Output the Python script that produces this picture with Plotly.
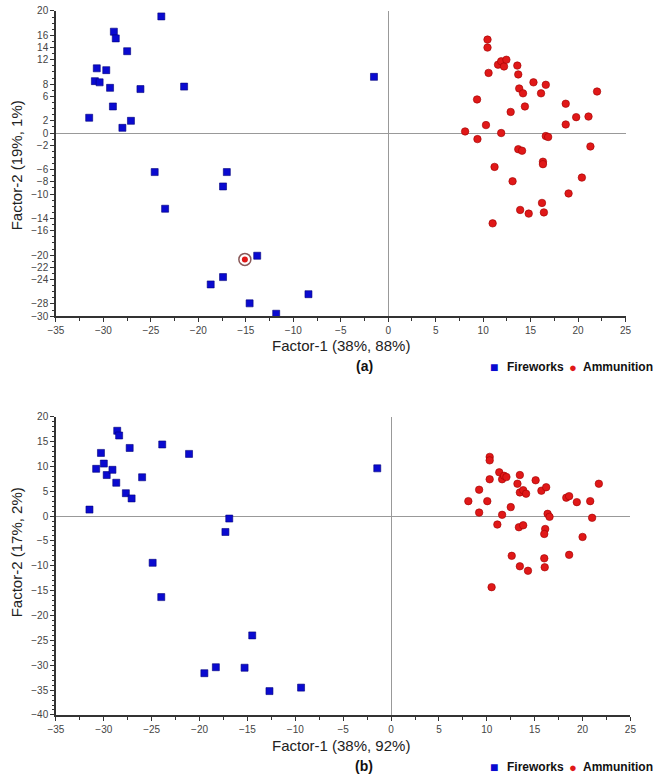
import plotly.graph_objects as go

# ---------------- Data: panel (a) ----------------
fw_a_x = [-23.9, -28.9, -28.7, -27.5, -30.7, -29.7, -30.9, -30.4, -29.3, -26.1, -21.5, -29.0, -31.5,
          -27.1, -28.0, -24.6, -17.0, -17.4, -23.5, -13.8, -17.4, -18.7, -8.4, -14.6, -11.8, -1.5]
fw_a_y = [19.1, 16.6, 15.5, 13.4, 10.6, 10.3, 8.5, 8.3, 7.4, 7.2, 7.6, 4.35, 2.5,
          2.0, 0.85, -6.4, -6.4, -8.75, -12.4, -20.1, -23.6, -24.8, -26.4, -27.9, -29.6, 9.2]

am_a_x = [10.46, 10.46, 11.57, 11.9, 12.2, 12.45, 13.6, 10.57, 13.7, 15.3, 16.6, 13.8, 14.2, 16.1,
          22.0, 9.36, 18.7, 14.4, 12.9, 19.8, 21.1, 10.3, 18.7, 8.1, 11.9, 9.4, 16.6, 16.85,
          21.3, 13.7, 14.1, 16.3, 16.3, 11.2, 13.1, 20.4, 19.0, 16.2, 13.9, 14.8, 16.4, 11.0]
am_a_y = [15.3, 14.0, 11.2, 11.75, 10.9, 12.0, 11.05, 9.85, 9.6, 8.3, 7.9, 7.3, 6.5, 6.5,
          6.8, 5.5, 4.8, 4.35, 3.45, 2.6, 2.7, 1.3, 1.4, 0.26, 0.0, -1.0, -0.5, -0.65,
          -2.2, -2.65, -2.9, -4.7, -5.1, -5.55, -7.9, -7.3, -9.9, -11.45, -12.6, -13.2, -13.0, -14.8]

# highlighted ammunition sample lying among the fireworks cluster
hl_a_x = [-15.1]
hl_a_y = [-20.7]

# ---------------- Data: panel (b) ----------------
fw_b_x = [-31.5, -30.8, -30.3, -30.0, -29.7, -29.1, -28.7, -28.6, -28.4, -27.3, -27.7, -27.1, -26.0,
          -23.9, -21.1, -24.9, -24.0, -16.9, -17.3, -14.5, -19.5, -18.3, -15.3, -12.7, -9.4, -1.44]
fw_b_y = [1.3, 9.5, 12.7, 10.55, 8.25, 9.3, 6.7, 17.15, 16.2, 13.7, 4.6, 3.55, 7.8,
          14.4, 12.5, -9.4, -16.3, -0.5, -3.2, -24.0, -31.6, -30.4, -30.5, -35.2, -34.5, 9.6]

am_b_x = [10.3, 10.3, 10.3, 11.3, 11.6, 11.8, 12.05, 13.45, 13.2, 15.1, 9.2, 13.45, 13.8, 14.1,
          15.7, 16.2, 8.07, 10.05, 12.5, 18.3, 18.6, 19.4, 20.8, 21.7, 9.2, 11.6, 16.35, 16.55,
          21.0, 11.1, 13.35, 13.8, 16.1, 16.0, 20.0, 12.6, 18.6, 16.0, 13.45, 14.3, 16.05, 10.5]
am_b_y = [11.9, 11.2, 7.4, 8.8, 7.4, 8.1, 7.85, 8.25, 6.5, 7.2, 5.3, 4.75, 5.2, 4.5,
          5.1, 5.8, 3.0, 3.0, 1.8, 3.7, 4.0, 2.8, 3.0, 6.5, 0.7, 0.25, 0.45, -0.15,
          -0.35, -1.7, -2.25, -1.85, -2.6, -3.6, -4.2, -8.0, -7.8, -8.5, -10.1, -11.0, -10.3, -14.3]

# ---------------- Axis ticks / labels ----------------
x_ticks = [-35, -30, -25, -20, -15, -10, -5, 0, 5, 10, 15, 20, 25]
ya_ticks = [20, 16, 14, 12, 8, 6, 2, 0, -2, -6, -8, -10, -14, -16, -20, -22, -24, -28, -30]
yb_ticks = [20, 15, 10, 5, 0, -5, -10, -15, -20, -25, -30, -35, -40]

xa_title = "Factor-1 (38%, 88%)"
ya_title = "Factor-2 (19%, 1%)"
xb_title = "Factor-1 (38%, 92%)"
yb_title = "Factor-2 (17%, 2%)"
series_names = ["Fireworks", "Ammunition"]

BLUE = "#0a0ad0"
RED = "#e01818"
W, H = 656, 783
FONT = "Liberation Sans, Arial, sans-serif"

fig = go.Figure()

sq = dict(symbol="square", size=7, color=BLUE, line=dict(color="#00007a", width=0.6))
ci = dict(symbol="circle", size=7.5, color=RED, line=dict(color="#a00000", width=0.6))

# panel a
fig.add_trace(go.Scatter(x=fw_a_x, y=fw_a_y, mode="markers", marker=sq, name=series_names[0],
                         xaxis="x", yaxis="y", showlegend=False))
fig.add_trace(go.Scatter(x=am_a_x, y=am_a_y, mode="markers", marker=ci, name=series_names[1],
                         xaxis="x", yaxis="y", showlegend=False))
fig.add_trace(go.Scatter(x=hl_a_x, y=hl_a_y, mode="markers", showlegend=False,
                         marker=dict(symbol="circle-open", size=12, color="#8a5a5a",
                                     line=dict(width=1.5)), xaxis="x", yaxis="y"))
fig.add_trace(go.Scatter(x=hl_a_x, y=hl_a_y, mode="markers", showlegend=False,
                         marker=dict(symbol="circle", size=6, color=RED), xaxis="x", yaxis="y"))
# panel b
fig.add_trace(go.Scatter(x=fw_b_x, y=fw_b_y, mode="markers", marker=sq, name=series_names[0],
                         xaxis="x2", yaxis="y2", showlegend=False))
fig.add_trace(go.Scatter(x=am_b_x, y=am_b_y, mode="markers", marker=ci, name=series_names[1],
                         xaxis="x2", yaxis="y2", showlegend=False))

tickfont = dict(family=FONT, size=10, color="#444")
axis_common = dict(showline=True, linecolor="#333", linewidth=1.5, ticks="outside", ticklen=4,
                   tickcolor="#333", tickwidth=1, showgrid=False, zeroline=True,
                   zerolinecolor="#999", zerolinewidth=1, tickfont=tickfont, mirror=False)

top_y0, top_y1 = 5, 315
bot_y0, bot_y1 = 417, 720
xl = 49

fig.update_layout(
    width=W, height=H,
    margin=dict(l=0, r=0, t=0, b=0),
    paper_bgcolor="white", plot_bgcolor="white",
    showlegend=False,
    xaxis=dict(domain=[xl / W, 631 / W], range=[-35, 25], tickvals=x_ticks, anchor="y",
               minor=dict(ticks="outside", ticklen=3, dtick=2.5, tick0=0, tickcolor="#333"),
               **axis_common),
    yaxis=dict(domain=[1 - top_y1 / H, 1 - top_y0 / H], range=[-30, 20], tickvals=ya_ticks,
               anchor="x", minor=dict(ticks="outside", ticklen=2, dtick=1, tick0=0, tickcolor="#333"),
               **axis_common),
    xaxis2=dict(domain=[xl / W, 636 / W], range=[-35, 25], tickvals=x_ticks, anchor="y2",
                minor=dict(ticks="outside", ticklen=3, dtick=2.5, tick0=0, tickcolor="#333"),
                **axis_common),
    yaxis2=dict(domain=[1 - bot_y1 / H, 1 - bot_y0 / H], range=[-40, 20], tickvals=yb_ticks,
                anchor="x2", minor=dict(ticks="outside", ticklen=2, dtick=1, tick0=0, tickcolor="#333"),
                **axis_common),
)

tfont = dict(family=FONT, size=15, color="#222")
ann = [
    dict(text=xa_title, x=340 / W, y=1 - 345 / H),
    dict(text=xb_title, x=340 / W, y=1 - 751 / H),
    dict(text=ya_title, x=9 / W, y=1 - 162 / H, textangle=-90),
    dict(text=yb_title, x=9 / W, y=1 - 555 / H, textangle=-90),
]
for a in ann:
    fig.add_annotation(xref="paper", yref="paper", showarrow=False, xanchor="center",
                       yanchor="middle", font=tfont, **a)
for lbl, yy in [("(a)", 366), ("(b)", 772)]:
    fig.add_annotation(xref="paper", yref="paper", showarrow=False, text=f"<b>{lbl}</b>",
                       x=364 / W, y=1 - yy / H, xanchor="center", yanchor="middle",
                       font=dict(family=FONT, size=14, color="#111"))

# legend drawn as text rows (one per panel)
for yy in [367, 773]:
    yp = 1 - yy / H
    fig.add_annotation(xref="paper", yref="paper", showarrow=False, text="■", x=497 / W, y=yp,
                       xanchor="center", yanchor="middle", font=dict(family=FONT, size=14, color=BLUE))
    fig.add_annotation(xref="paper", yref="paper", showarrow=False, text=f"<b>{series_names[0]}</b>",
                       x=508 / W, y=yp, xanchor="left", yanchor="middle",
                       font=dict(family=FONT, size=12, color="#111"))
    fig.add_annotation(xref="paper", yref="paper", showarrow=False, text="●", x=577 / W, y=yp,
                       xanchor="center", yanchor="middle", font=dict(family=FONT, size=13, color=RED))
    fig.add_annotation(xref="paper", yref="paper", showarrow=False, text=f"<b>{series_names[1]}</b>",
                       x=586 / W, y=yp, xanchor="left", yanchor="middle",
                       font=dict(family=FONT, size=12, color="#111"))

fig.write_html("out.html")
